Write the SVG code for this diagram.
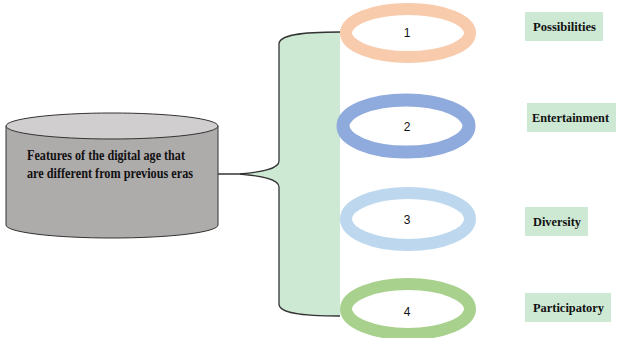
<svg xmlns="http://www.w3.org/2000/svg" width="619" height="338" viewBox="0 0 619 338">
<style>
.lbl{font-family:"Liberation Serif","Times New Roman",serif;font-weight:bold;font-size:15px;fill:#111;}
.tag{font-family:"Liberation Serif","Times New Roman",serif;font-weight:bold;font-size:13.5px;fill:#111;}
.num{font-family:"Liberation Sans",Arial,sans-serif;font-size:12px;fill:#111;text-anchor:middle;}
.box{fill:#cde8d3;}
.ring{fill:#fff;}
</style>
<rect width="619" height="338" fill="#fff"/>
<g id="connectors">
<line x1="218" y1="174" x2="242" y2="174" stroke="#333" stroke-width="1.5"/>
<path d="M340,32 C300,32 279,35 279,44 L279,161 C279,169 262,172 240,174 C262,176 279,179 279,187 L279,304 C279,313 300,316 340,316" fill="#cde8d3" stroke="#333" stroke-width="1.3"/>
</g>
<g id="cylinder">
<path d="M6,126 L6,225 A106,13 0 0 0 218,225 L218,126 Z" fill="#aeabab" stroke="#333" stroke-width="1"/>
<ellipse cx="112" cy="126" rx="106" ry="13" fill="#d0cece" stroke="#333" stroke-width="1"/>
<text class="lbl" x="27" y="160" textLength="158" lengthAdjust="spacingAndGlyphs">Features of the digital age that</text>
<text class="lbl" x="27" y="178" textLength="166" lengthAdjust="spacingAndGlyphs">are different from previous eras</text>
</g>
<g id="ring1">
<ellipse class="ring" cx="408" cy="33" rx="62" ry="24" stroke="#f8cbad" stroke-width="12"/>
<text class="num" x="407" y="37">1</text>
</g>
<g id="ring2">
<ellipse class="ring" cx="406" cy="126" rx="63" ry="26" stroke="#8faadc" stroke-width="13"/>
<text class="num" x="407" y="131">2</text>
</g>
<g id="ring3">
<ellipse class="ring" cx="408" cy="219" rx="62" ry="26" stroke="#bdd7ee" stroke-width="12"/>
<text class="num" x="407" y="224">3</text>
</g>
<g id="ring4">
<ellipse class="ring" cx="408" cy="309" rx="62" ry="25" stroke="#a9d18e" stroke-width="12"/>
<text class="num" x="407" y="316">4</text>
</g>
<g id="label1">
<rect class="box" x="525" y="12" width="78" height="29"/>
<text class="tag" x="533" y="31" textLength="63" lengthAdjust="spacingAndGlyphs">Possibilities</text>
</g>
<g id="label2">
<rect class="box" x="527" y="103" width="89" height="29"/>
<text class="tag" x="532" y="122" textLength="77" lengthAdjust="spacingAndGlyphs">Entertainment</text>
</g>
<g id="label3">
<rect class="box" x="525" y="207" width="63" height="29"/>
<text class="tag" x="533" y="226" textLength="48" lengthAdjust="spacingAndGlyphs">Diversity</text>
</g>
<g id="label4">
<rect class="box" x="525" y="293" width="86" height="29"/>
<text class="tag" x="533" y="312" textLength="71" lengthAdjust="spacingAndGlyphs">Participatory</text>
</g>
</svg>
